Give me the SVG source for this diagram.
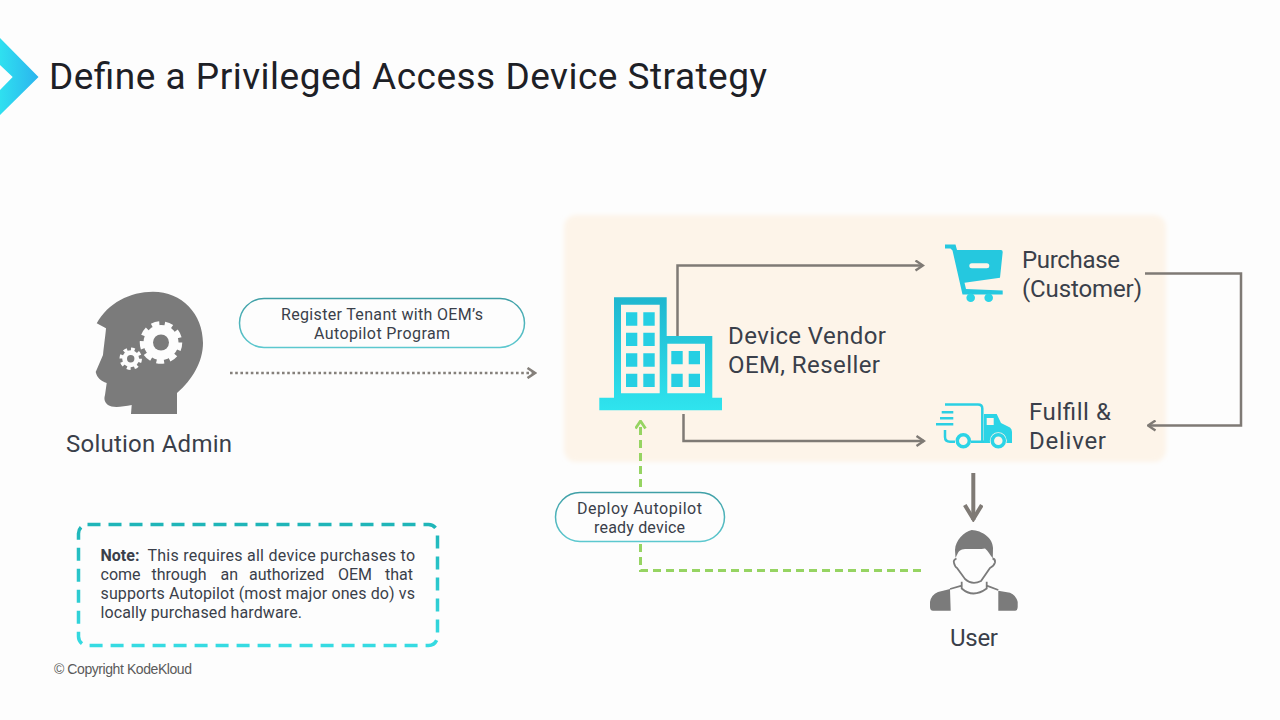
<svg xmlns="http://www.w3.org/2000/svg" width="1280" height="720" viewBox="0 0 1280 720">
<style>
text{font-family:Roboto,"Noto Sans","Liberation Sans",sans-serif;fill:#3a3f4a}
.lbl{font-size:24px}
.pilltx{font-size:16px}
.note{font-size:16px}
.conn{fill:none;stroke:#7f7a75;stroke-width:2.5}
.pill{fill:#fdfdfd;stroke:url(#teal);stroke-width:1.5}
.gray{fill:#7b7b7b}
.cy{fill:url(#cy)}
.cream{fill:#fdf4e9}
</style>
<defs>
<linearGradient id="logo" x1="0" y1="0" x2="1" y2="0"><stop offset="0" stop-color="#2fe0f0"/><stop offset="1" stop-color="#2bb4ee"/></linearGradient>
<linearGradient id="cy" x1="0" y1="0" x2="0" y2="1"><stop offset="0" stop-color="#1fb6cf"/><stop offset="1" stop-color="#2fe4ee"/></linearGradient>
<linearGradient id="teal" x1="0" y1="0" x2="0" y2="1"><stop offset="0" stop-color="#3f9fa6"/><stop offset="1" stop-color="#5cc8cf"/></linearGradient>
<linearGradient id="dash" x1="0" y1="0" x2="0" y2="1"><stop offset="0" stop-color="#1fb5b8"/><stop offset="1" stop-color="#36dbe2"/></linearGradient>
<filter id="soft" x="-5%" y="-5%" width="110%" height="110%"><feGaussianBlur stdDeviation="2"/></filter>
<marker id="ag" viewBox="0 0 12 12" refX="10.5" refY="6" markerWidth="12" markerHeight="12" markerUnits="userSpaceOnUse" orient="auto"><path d="M3 1L10.5 6L3 11" fill="none" stroke="#7f7a75" stroke-width="2.4"/></marker>
<marker id="agb" viewBox="0 0 20 20" refX="18" refY="10" markerWidth="20" markerHeight="20" markerUnits="userSpaceOnUse" orient="auto"><path d="M3 1.500L17 10L3 18.500" fill="none" stroke="#7f7a75" stroke-width="4"/></marker>
<marker id="ad" viewBox="0 0 12 12" refX="10.5" refY="6" markerWidth="12" markerHeight="12" markerUnits="userSpaceOnUse" orient="auto"><path d="M3 1L10.5 6L3 11" fill="none" stroke="#85807b" stroke-width="2.6"/></marker>
<marker id="agr" viewBox="0 0 12 12" refX="10.5" refY="6" markerWidth="12" markerHeight="12" markerUnits="userSpaceOnUse" orient="auto"><path d="M3 1L10.5 6L3 11" fill="none" stroke="#96d462" stroke-width="2.8"/></marker>
</defs>
<rect width="1280" height="720" fill="#fdfdfd"/>
<g id="logo-mark"><path d="M0 38L38.500 77L0 115V90L12.700 77L0 65Z" fill="url(#logo)"/></g>
<text id="title" x="49" y="89" font-size="37" textLength="718" lengthAdjust="spacing" style="fill:#1d2026">Define a Privileged Access Device Strategy</text>

<rect id="vendor-panel" x="564" y="215" width="602" height="247" rx="12" class="cream" filter="url(#soft)"/>

<g id="connectors">
<path class="conn" d="M677.500 337V265.500H923" marker-end="url(#ag)"/>
<path class="conn" d="M683.500 414V441H924" marker-end="url(#ag)"/>
<path class="conn" d="M1145 273.500H1241V425.500H1148" marker-end="url(#ag)"/>
<path class="conn" d="M973.300 473V520" style="stroke-width:4" marker-end="url(#agb)"/>
<path d="M230 373H535" fill="none" stroke="#85807b" stroke-width="2.600" stroke-dasharray="2.600 2.600" marker-end="url(#ad)"/>
<path d="M921 570.500H640.500V421" fill="none" stroke="#96d462" stroke-width="3" stroke-dasharray="8 5" marker-end="url(#agr)"/>
</g>

<g id="admin">
<path class="gray" d="M96.700 323.300C108 303 130 291.700 153 291.700C182 291.700 203 314 203 343C203 362 192 380 177 393L177 414H131L131.700 405C122 407 112 408 108 405C104 402 104 398 105 395L106.700 383C101 381 97 378 95.700 372L103 355C104 345 105.500 335 106 328.300Z"/>
<g id="gear-large"><circle cx="161" cy="342.500" r="17.500" fill="#fdfdfd"/><circle cx="161" cy="342.500" r="18.500" fill="none" stroke="#fdfdfd" stroke-width="5.500" stroke-dasharray="7.500 5.410"/><circle cx="161" cy="342.500" r="8" class="gray"/></g>
<g id="gear-small"><circle cx="130.700" cy="358.700" r="8.500" fill="#fdfdfd"/><circle cx="130.700" cy="358.700" r="9.500" fill="none" stroke="#fdfdfd" stroke-width="3.500" stroke-dasharray="3.700 3.760"/><circle cx="130.700" cy="358.700" r="3.700" class="gray"/></g>
<text class="lbl" x="66" y="452" textLength="166">Solution Admin</text>
</g>

<g id="register-label"><rect class="pill" x="239.500" y="298.500" width="285" height="49" rx="24.500"/>
<text class="pilltx" x="281" y="320" textLength="202">Register Tenant with OEM’s</text>
<text class="pilltx" x="314" y="339" textLength="136">Autopilot Program</text></g>

<g id="vendor">
<path class="cy" d="M614 297.300H666.700V336H712.300V397.700H722V410.300H599.300V397.700H614Z"/>
<path class="cream" d="M621 304.700H659.700V393.300H621ZM667.300 343.700H705V393.300H667.300Z"/>
<path fill="#26cfe3" d="M626 312.300h11.300v13.400h-11.300zM643.300 312.300h11.400v13.400h-11.400zM626 332.700h11.300v13.300h-11.300zM643.300 332.700h11.400v13.300h-11.400zM626 353.300h11.300v13.400h-11.300zM643.300 353.300h11.400v13.400h-11.400zM626 373.700h11.300v13.300h-11.300zM643.300 373.700h11.400v13.300h-11.400zM671.300 351h11.400v13.300h-11.400zM688.700 351h11.300v13.300h-11.300zM671.300 373.700h11.400v13.300h-11.400zM688.700 373.700h11.300v13.300h-11.300z"/>
<text class="lbl" x="728" y="344" textLength="158">Device Vendor</text>
<text class="lbl" x="728" y="373" textLength="152">OEM, Reseller</text>
</g>

<g id="purchase">
<path d="M945 244.500H955.500L957 250H1001Q1002.700 250 1002.700 252L1000 277.700L964.500 282.700L966 289L1002.700 290.500V294.500H962.500L952.500 250.500L950.500 248.500H945Z" fill="#25c8df"/>
<rect x="969.300" y="263.300" width="20" height="5" rx="2.500" fill="#fdf4e9"/>
<circle cx="970.700" cy="297.700" r="4.300" fill="#2bd4e6"/><circle cx="988.700" cy="297.700" r="4.300" fill="#2bd4e6"/>
<text class="lbl" x="1022" y="268" textLength="98">Purchase</text>
<text class="lbl" x="1022" y="297" textLength="120">(Customer)</text>
</g>

<g id="fulfill">
<path d="M945 404.500H978Q982.300 404.500 982.300 408.500V441.700M945 430V437Q945 441.700 950 441.700H955M971 441.700H990" fill="none" stroke="#2bcfe3" stroke-width="2.500"/>
<path d="M941.700 412.300H953.300M940 418.300H953.300M936 424.300H953.300" fill="none" stroke="#2bcfe3" stroke-width="2.500"/>
<path fill="#2bd4e6" d="M984 414H996.700L1001 423L1010 427.500Q1012 429 1012 432V443H984Z"/>
<rect x="986.700" y="418" width="7" height="7" fill="#fdf4e9"/>
<circle cx="963.300" cy="440.700" r="6" fill="#fdf4e9" stroke="#2bd4e6" stroke-width="3.500"/>
<circle cx="998.300" cy="440.700" r="8.500" fill="#fdf4e9"/>
<circle cx="998.300" cy="440.700" r="6" fill="#fdf4e9" stroke="#2bd4e6" stroke-width="3.500"/>
<text class="lbl" x="1029" y="420" textLength="82">Fulfill &amp;</text>
<text class="lbl" x="1029" y="449" textLength="77">Deliver</text>
</g>

<g id="user">
<path class="gray" d="M955.500 558L955 550C955.500 540 964 532 971.700 530C982 530.500 993 538 993 548L992.800 558.300C990 555 988 551 985 548.500C978 550 968 548 962 549.500C957.500 551 957.500 555 955.500 558Z"/>
<path d="M956.500 558.500Q953 560 954 563Q955 567 957 568L965 579Q972 585.500 981 581L990 568Q994 566 995 562.500Q995.500 559 992.500 558.500M961.700 581.700V588.500Q973 598.500 986.700 588.500V581.700M950 589L961.700 585.700M986.700 585.700L998.300 590" fill="none" stroke="#7b7b7b" stroke-width="1.800"/>
<path class="gray" d="M950 589L950.700 610.700H933Q930 610.700 930 607V602Q931 595 938 592ZM998.300 590.700V610.700H1015Q1017.700 610.700 1017.700 607V602Q1016 595 1010 592.700Z"/>
<text class="lbl" x="950" y="646" textLength="48">User</text>
</g>

<g id="deploy-label"><rect class="pill" x="555.500" y="492.500" width="169" height="49" rx="24.500"/>
<text class="pilltx" x="577" y="514" textLength="125">Deploy Autopilot</text>
<text class="pilltx" x="594" y="533" textLength="91">ready device</text></g>

<g id="note">
<rect x="78.500" y="524.500" width="359" height="121" rx="9" fill="none" stroke="url(#dash)" stroke-width="3.500" stroke-dasharray="13 8"/>
<text class="note" y="561"><tspan x="100.500" font-weight="700">Note:</tspan><tspan x="147.500" textLength="267.500">This requires all device purchases to</tspan></text>
<text class="note" y="580"><tspan x="100.500">come</tspan><tspan x="151.500">through</tspan><tspan x="220.500">an</tspan><tspan x="249">authorized</tspan><tspan x="338">OEM</tspan><tspan x="385">that</tspan></text>
<text class="note" x="100.500" y="599" textLength="314.500">supports Autopilot (most major ones do) vs</text>
<text class="note" x="100.500" y="618" textLength="201.500">locally purchased hardware.</text>
</g>

<text id="copyright" x="54" y="674" font-size="14" textLength="138" style="font-family:'Liberation Sans',Arial,sans-serif;fill:#5a5a5a">© Copyright KodeKloud</text>
</svg>
